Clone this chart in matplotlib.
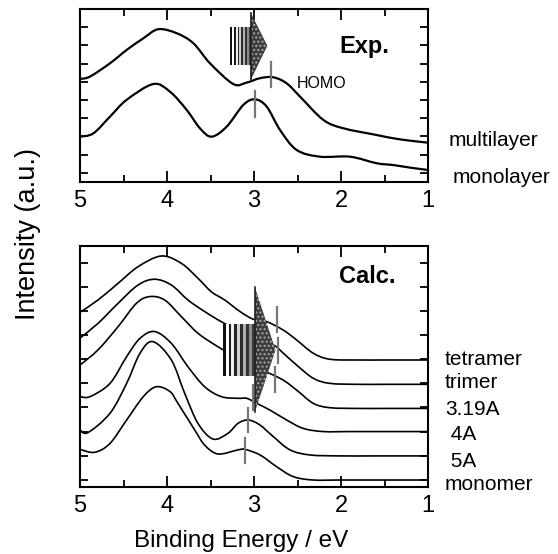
import numpy as np
import matplotlib
matplotlib.use("Agg")
import matplotlib.pyplot as plt
from matplotlib.patches import Rectangle, Polygon, PathPatch
from matplotlib.path import Path

plt.rcParams['font.family'] = ['Liberation Sans', 'DejaVu Sans']

# ---------------------------------------------------------------
# data (binding energy / eV, intensity a.u.)
# ---------------------------------------------------------------

# experiment
multi_E = [5.00, 4.885, 4.655, 4.464, 4.272, 4.10, 3.889, 3.697, 3.506, 3.238,
           3.084, 2.931, 2.778, 2.625, 2.471, 2.203, 1.973, 1.590, 1.398, 1.207, 1.00]
multi_I = [5.66, 5.79, 6.52, 7.25, 7.89, 8.39, 8.17, 7.62, 6.52, 5.38,
           5.46, 5.70, 5.75, 5.42, 4.69, 3.41, 2.95, 2.58, 2.40, 2.27, 2.16]

mono_E = [5.00, 4.847, 4.655, 4.464, 4.157, 3.966, 3.774, 3.621, 3.487, 3.314,
          3.123, 2.989, 2.854, 2.701, 2.510, 2.241, 1.897, 1.590, 1.398, 1.207, 1.00]
mono_I = [2.49, 2.67, 3.59, 4.51, 5.38, 4.96, 3.96, 2.95, 2.49, 3.04,
          4.23, 4.54, 4.14, 2.86, 1.76, 1.39, 1.39, 1.03, 0.93, 0.79, 0.66]

# HOMO positions (energy, lower, upper)
exp_homo = [(2.81, 5.20, 6.58), (2.99, 3.59, 5.00)]

# calculation
tetra_E = [5.00, 4.793, 4.563, 4.333, 4.065, 3.835, 3.644, 3.490, 3.337, 3.161,
           3.008, 2.854, 2.663, 2.510, 2.318, 2.126, 1.8, 1.5, 1.00]
tetra_I = [7.25, 7.76, 8.45, 9.14, 9.585, 9.28, 8.66, 8.10, 7.76, 7.28,
           6.96, 6.86, 6.51, 6.10, 5.55, 5.30, 5.27, 5.27, 5.27]

tri_E = [5.00, 4.793, 4.563, 4.333, 4.142, 3.950, 3.759, 3.567, 3.376, 3.084,
         2.778, 2.663, 2.510, 2.318, 2.126, 1.8, 1.5, 1.00]
tri_I = [6.18, 6.79, 7.62, 8.38, 8.62, 8.38, 7.76, 7.28, 6.86, 6.31,
         5.89, 5.55, 5.06, 4.51, 4.30, 4.26, 4.26, 4.26]

d319_E = [5.00, 4.793, 4.563, 4.352, 4.199, 4.027, 3.835, 3.644, 3.414, 3.084,
          2.701, 2.510, 2.318, 2.126, 1.8, 1.5, 1.00]
d319_I = [5.06, 5.69, 6.65, 7.62, 7.90, 7.76, 7.07, 6.38, 5.82, 5.13,
          4.51, 4.02, 3.47, 3.29, 3.26, 3.26, 3.26]

d4_E = [5.00, 4.885, 4.655, 4.464, 4.310, 4.142, 3.950, 3.759, 3.567, 3.376,
        3.184, 3.084, 2.969, 2.816, 2.625, 2.433, 2.203, 1.9, 1.5, 1.00]
d4_I = [3.75, 3.75, 4.30, 5.41, 6.17, 6.45, 5.96, 4.99, 4.16, 3.75,
        3.68, 3.68, 3.47, 3.19, 2.78, 2.43, 2.30, 2.30, 2.30, 2.30]

d5_E = [5.00, 4.908, 4.655, 4.464, 4.310, 4.161, 3.950, 3.797, 3.644, 3.471,
        3.299, 3.184, 3.065, 2.931, 2.778, 2.586, 2.356, 2.0, 1.6, 1.00]
d5_I = [2.37, 2.26, 3.06, 4.30, 5.55, 6.03, 5.27, 3.89, 2.64, 1.99,
        2.23, 2.64, 2.78, 2.57, 2.09, 1.54, 1.33, 1.29, 1.29, 1.29]

mon_E = [5.00, 4.831, 4.655, 4.464, 4.272, 4.123, 3.966, 3.874, 3.682, 3.567,
         3.414, 3.184, 3.103, 2.931, 2.739, 2.548, 2.318, 2.0, 1.6, 1.00]
mon_I = [1.56, 1.44, 1.81, 2.78, 3.75, 4.16, 3.96, 3.47, 2.37, 1.74,
         1.37, 1.54, 1.56, 1.33, 0.84, 0.43, 0.29, 0.29, 0.29, 0.29]

calc_homo = [(2.732, 6.445, 7.483), (2.720, 5.131, 6.169), (2.759, 3.956, 4.993),
             (3.008, 3.195, 4.232), (3.065, 2.296, 3.264), (3.103, 0.982, 2.020)]

exp_labels = ['multilayer', 'monolayer']
calc_labels = ['tetramer', 'trimer', '3.19A', ' 4A', ' 5A', 'monomer']

W, H = 558, 554


def fx(px):
    return px / W


def fy(py):
    return 1 - py / H


def smooth_line(ax, xs, ys, lw):
    # draw the read points as a smooth bezier path through every point
    p = np.column_stack([xs, ys])
    n = len(p)
    verts = [p[0]]
    codes = [Path.MOVETO]
    for i in range(n - 1):
        p0 = p[i - 1] if i > 0 else p[i]
        p3 = p[i + 2] if i + 2 < n else p[i + 1]
        c1 = p[i] + (p[i + 1] - p0) / 6
        c2 = p[i + 1] - (p3 - p[i]) / 6
        verts += [c1, c2, p[i + 1]]
        codes += [Path.CURVE4] * 3
    ax.add_patch(PathPatch(Path(verts, codes), fill=False, edgecolor='k',
                           lw=lw, zorder=3))


def style_axis(ax, ylim, yticks):
    ax.set_xlim(5, 1)
    ax.set_ylim(*ylim)
    ax.set_xticks([5, 4, 3, 2, 1])
    ax.set_xticklabels(['5', '4', '3', '2', '1'])
    ax.set_xticks(np.arange(1.5, 5, 1.0), minor=True)
    ax.set_yticks(yticks)
    ax.set_yticklabels([])
    ax.tick_params(axis='x', which='major', direction='in', length=8, width=1.3,
                   top=True, labelsize=17, pad=6)
    ax.tick_params(axis='x', which='minor', direction='in', length=5, width=1.3, top=True)
    ax.tick_params(axis='y', which='major', direction='in', length=6, width=1.3, right=True)
    for s in ax.spines.values():
        s.set_linewidth(1.5)


def draw_arrow(ax, x0, x1, yb, yt, tip_x, tri_b, tri_t):
    # striped block
    cols = ['#111111', '#ffffff', '#1a1a1a', '#f0f0f0', '#222222', '#d0d0d0',
            '#2b2b2b', '#b0b0b0', '#333333', '#8c8c8c', '#3a3a3a']
    n = len(cols)
    edges = np.linspace(x0, x1, n + 1)
    for i, c in enumerate(cols):
        ax.add_patch(Rectangle((edges[i], yb), edges[i + 1] - edges[i], yt - yb,
                               facecolor=c, edgecolor='none', zorder=5))
    # head
    tip_y = (yb + yt) / 2
    ax.add_patch(Polygon([(x1, tri_b), (x1, tri_t), (tip_x, tip_y)], closed=True,
                         facecolor='#3c3c3c', edgecolor='#a8a8a8', hatch='....',
                         lw=0, zorder=5))
    ax.plot([x1, x1], [tri_b, tri_t], color='#222222', lw=1.2, zorder=5)


fig = plt.figure(figsize=(W / 100, H / 100), dpi=100)

# ----- experiment -----
ax1 = fig.add_axes([fx(80), fy(182), fx(428) - fx(80), fy(9) - fy(182)])
style_axis(ax1, (0, 9.5), np.arange(0.5, 9, 1.0))
smooth_line(ax1, multi_E, multi_I, 1.6)
smooth_line(ax1, mono_E, mono_I, 1.6)
for e, lo, hi in exp_homo:
    ax1.plot([e, e], [lo, hi], color='#777777', lw=1.6, zorder=6)
draw_arrow(ax1, 3.276, 3.038, 6.43, 8.53, 2.847, 5.60, 9.30)
ax1.text(2.023, 7.09, 'Exp.', fontsize=17, fontweight='bold', ha='left', va='baseline')
ax1.text(2.509, 5.15, 'HOMO', fontsize=11.5, ha='left', va='baseline')

# ----- calculation -----
ax2 = fig.add_axes([fx(80), fy(487), fx(428) - fx(80), fy(246) - fy(487)])
style_axis(ax2, (0, 10), np.arange(0.3, 10, 1.0))
for es, ys in [(tetra_E, tetra_I), (tri_E, tri_I), (d319_E, d319_I),
               (d4_E, d4_I), (d5_E, d5_I), (mon_E, mon_I)]:
    smooth_line(ax2, es, ys, 1.2)
for e, lo, hi in calc_homo:
    ax2.plot([e, e], [lo, hi], color='#777777', lw=1.6, zorder=6)
draw_arrow(ax2, 3.36, 2.989, 4.61, 6.76, 2.753, 3.12, 8.28)
ax2.text(2.023, 8.46, 'Calc.', fontsize=17, fontweight='bold', ha='left', va='baseline')

# ----- side labels -----
for lab, x, yb in zip(exp_labels, [449, 453], [146, 183]):
    fig.text(fx(x), fy(yb), lab, fontsize=15, ha='left', va='baseline')
for lab, yb in zip(calc_labels, [365, 388, 415, 440, 467, 490]):
    fig.text(fx(445), fy(yb), lab, fontsize=15, ha='left', va='baseline')

fig.text(fx(28), fy(234), 'Intensity (a.u.)', fontsize=19.5, rotation=90,
         ha='center', va='center')
fig.text(fx(241), fy(547), 'Binding Energy / eV', fontsize=17.5,
         ha='center', va='baseline')

fig.savefig('out.png', dpi=100)
